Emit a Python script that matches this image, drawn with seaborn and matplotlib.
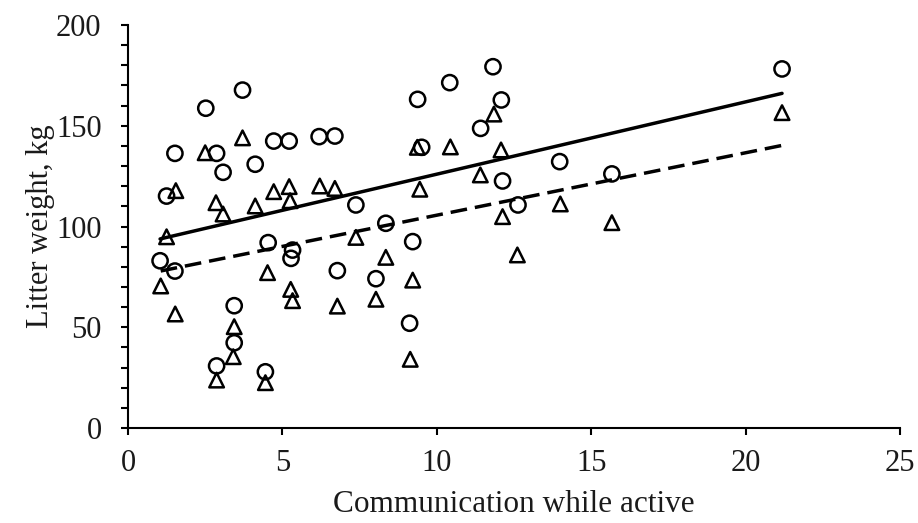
import numpy as np
import pandas as pd
import seaborn as sns
import matplotlib.pyplot as plt
from matplotlib.ticker import MultipleLocator

# circles (solid trendline)
circle_x = [1.04, 1.25, 1.52, 1.52, 2.52, 2.87, 2.87, 3.08, 3.44, 3.44, 3.71, 4.12, 4.45,
            4.54, 4.72, 5.22, 5.28, 5.33, 6.19, 6.70, 6.78, 7.38, 8.03, 8.35, 9.12, 9.22,
            9.38, 9.51, 10.42, 11.42, 11.82, 12.09, 12.13, 12.63, 13.98, 15.67, 21.18]
circle_y = [83.0, 115.1, 136.3, 77.9, 158.7, 136.3, 30.8, 126.9, 60.7, 42.3, 167.7, 130.9, 27.9,
            92.0, 142.4, 142.4, 84.2, 88.3, 144.6, 144.9, 78.1, 110.7, 74.1, 101.6, 52.0, 92.5,
            163.1, 139.3, 171.4, 148.7, 179.3, 162.8, 122.6, 110.7, 132.2, 126.1, 178.2]

# triangles (dashed trendline)
tri_x = [1.06, 1.25, 1.55, 1.53, 2.50, 2.85, 2.87, 3.08, 3.44, 3.41, 3.71, 4.12, 4.45,
         4.52, 4.72, 5.22, 5.25, 5.27, 5.33, 6.21, 6.70, 6.78, 7.38, 8.03, 8.35, 9.14, 9.22,
         9.37, 9.45, 10.44, 11.41, 11.85, 12.08, 12.13, 12.61, 14.00, 15.67, 21.18]
tri_y = [70.5, 94.9, 117.8, 56.6, 136.6, 111.8, 23.8, 106.2, 50.3, 35.4, 144.0, 110.2, 22.5,
         77.1, 117.3, 119.8, 112.8, 68.8, 63.2, 120.1, 118.9, 60.5, 94.6, 63.9, 84.7, 34.1, 73.4,
         139.3, 118.5, 139.5, 125.6, 155.8, 138.0, 104.9, 85.9, 111.2, 101.9, 156.5]

circles = pd.DataFrame({"x": circle_x, "y": circle_y})
tris = pd.DataFrame({"x": tri_x, "y": tri_y})

sns.set_style("ticks")
plt.rcParams["font.family"] = ["Liberation Serif", "DejaVu Serif"]

fig = plt.figure(figsize=(9.18, 5.23), dpi=100)
ax = fig.add_axes([0.1394, 0.1816, 0.841, 0.7706])

sns.scatterplot(data=circles, x="x", y="y", marker="o", s=120, facecolors="none",
                edgecolor="black", linewidth=1.8, ax=ax, zorder=3)
sns.scatterplot(data=tris, x="x", y="y", marker="^", s=110, facecolors="none",
                edgecolor="black", linewidth=1.8, ax=ax, zorder=3)

sns.regplot(data=circles, x="x", y="y", scatter=False, ci=None, ax=ax,
            line_kws=dict(color="black", lw=2.5))
sns.regplot(data=tris, x="x", y="y", scatter=False, ci=None, ax=ax,
            line_kws=dict(color="black", lw=2.5, dashes=(4.8, 2.3)))

ax.set_xlim(0, 25)
ax.set_ylim(0, 200)
ax.xaxis.set_major_locator(MultipleLocator(5))
ax.yaxis.set_major_locator(MultipleLocator(50))
ax.yaxis.set_minor_locator(MultipleLocator(10))

for s in ["top", "right"]:
    ax.spines[s].set_visible(False)
for s in ["left", "bottom"]:
    ax.spines[s].set_linewidth(1.5)
    ax.spines[s].set_color("black")

ax.tick_params(axis="both", which="both", direction="out", length=5, width=1.5,
               color="black", labelsize=22, labelcolor="#1a1a1a")
ax.tick_params(axis="y", pad=14)
ax.tick_params(axis="x", pad=10)

ax.set_xlabel("Communication while active", fontsize=22.5, color="#1a1a1a", labelpad=9)
ax.set_ylabel("Litter weight, kg", fontsize=22, color="#1a1a1a", labelpad=1)

fig.savefig("out.png", dpi=100)
